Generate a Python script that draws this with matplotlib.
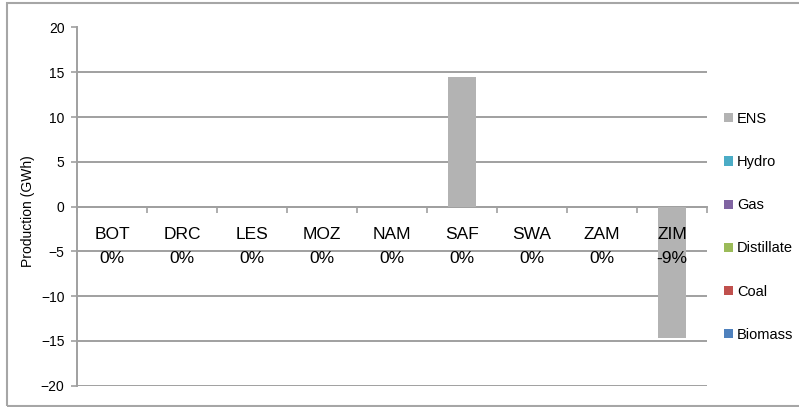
import numpy as np
import matplotlib
matplotlib.use('Agg')
import matplotlib.pyplot as plt
from matplotlib.patches import Rectangle

plt.rcParams['font.family'] = ['Liberation Sans', 'DejaVu Sans']

# data
regions = ['BOT', 'DRC', 'LES', 'MOZ', 'NAM', 'SAF', 'SWA', 'ZAM', 'ZIM']
pct_labels = ['0%', '0%', '0%', '0%', '0%', '0%', '0%', '0%', '-9%']
# stacking order (bottom -> top), legend shows reversed
series = ['Biomass', 'Coal', 'Distillate', 'Gas', 'Hydro', 'ENS']
colors = ['#4F81BD', '#C0504D', '#9BBB59', '#8064A2', '#4BACC6', '#B3B3B3']
biomass = [0, 0, 0, 0, 0, 0, 0, 0, 0]
coal = [0, 0, 0, 0, 0, 0, 0, 0, 0]
distillate = [0, 0, 0, 0, 0, 0, 0, 0, 0]
gas = [0, 0, 0, 0, 0, 0, 0, 0, 0]
hydro = [0, 0, 0, 0, 0, 0, 0, 0, 0]
ens = [0, 0, 0, 0, 0, 14.5, 0, 0, -14.7]
values = [biomass, coal, distillate, gas, hydro, ens]

W, H = 799, 407
fig = plt.figure(figsize=(W / 100, H / 100), dpi=100)
ax = fig.add_axes([77 / W, 1 - 385.7 / H, (707 - 77) / W, (385.7 - 27.5) / H])

grid_c = '#A0A0A0'
x = np.arange(len(regions)) + 0.5
pos_base = np.zeros(len(regions))
neg_base = np.zeros(len(regions))
handles = []
for name, col, vals in zip(series, colors, values):
    v = np.array(vals, dtype=float)
    base = np.where(v >= 0, pos_base, neg_base)
    b = ax.bar(x, v, width=0.4, bottom=base, color=col, edgecolor='none',
               label=name, zorder=3)
    handles.append(b)
    pos_base += np.clip(v, 0, None)
    neg_base += np.clip(v, None, 0)

ax.set_xlim(0, len(regions))
ax.set_ylim(-20, 20)
ax.set_yticks(np.arange(-20, 21, 5))
ax.yaxis.grid(True, color=grid_c, lw=1.4, zorder=1)
ax.set_axisbelow(True)

for s in ['top', 'right']:
    ax.spines[s].set_visible(False)
ax.spines['left'].set_color(grid_c)
ax.spines['left'].set_linewidth(1.4)
ax.spines['bottom'].set_position(('data', 0))
ax.spines['bottom'].set_color(grid_c)
ax.spines['bottom'].set_linewidth(1.4)

ax.set_xticks(np.arange(0, len(regions) + 1))
ax.set_xticklabels([])
ax.tick_params(axis='x', direction='out', length=4, width=1.2, color=grid_c)
ax.tick_params(axis='y', direction='out', length=4, width=1.2, color=grid_c,
               labelsize=10, pad=5)

for xi, name, pct in zip(x, regions, pct_labels):
    ax.text(xi, -3.1, name, ha='center', va='center', fontsize=12.5, zorder=4)
    ax.text(xi, -5.75, pct, ha='center', va='center', fontsize=12.5, zorder=4)

fig.text(28 / W, 1 - 211 / H, 'Production (GWh)', rotation=90,
         ha='center', va='center', fontsize=10)

fig.legend(handles[::-1], series[::-1], loc='upper left',
           bbox_to_anchor=(724 / W, 1 - 112 / H), frameon=False,
           fontsize=10.5, handlelength=0.6, handleheight=0.6,
           handletextpad=0.3, labelspacing=2.0, borderpad=0, borderaxespad=0)

fig.patches.append(Rectangle((7 / W, 1 - 405.7 / H), 1.0, (405.7 - 3) / H,
                             transform=fig.transFigure, fill=False,
                             edgecolor='#A6A6A6', lw=1.5))

fig.savefig('out.png', dpi=100)
